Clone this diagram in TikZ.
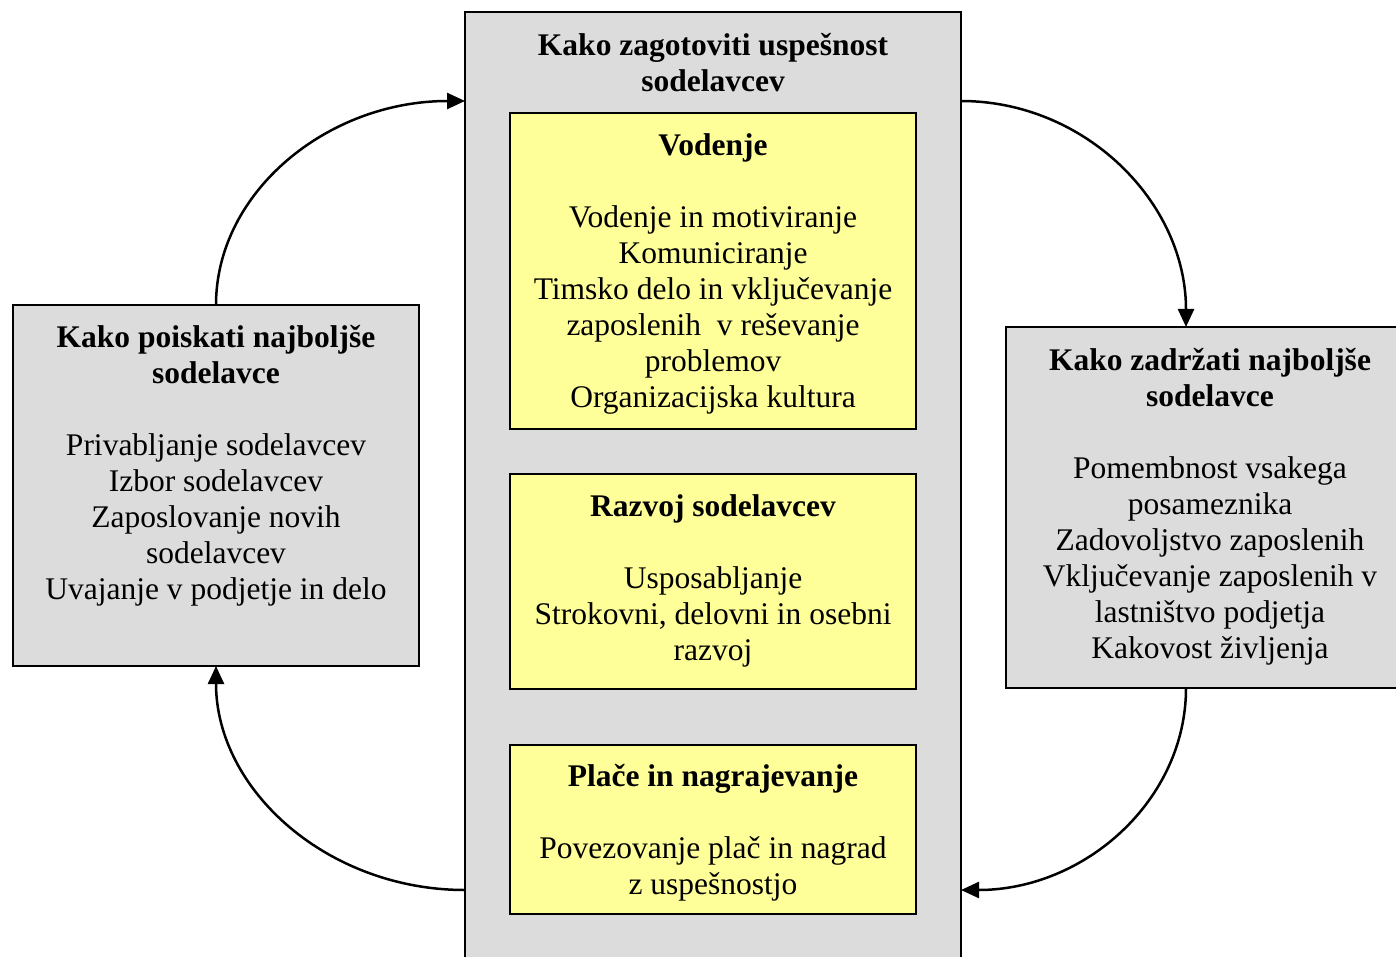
\documentclass[tikz,border=0pt]{standalone}
\usepackage{fontspec}
\setmainfont{Liberation Serif}
\usetikzlibrary{arrows.meta}
\definecolor{boxgrey}{RGB}{220,220,220}
\definecolor{boxyellow}{RGB}{255,255,153}
\begin{document}
\begin{tikzpicture}[x=1pt,y=-1pt,
  greybox/.style={draw=black, line width=2pt, fill=boxgrey, inner sep=0pt, outer sep=0pt},
  yellowbox/.style={draw=black, line width=2.5pt, fill=boxyellow, inner sep=0pt, outer sep=0pt},
  boxtext/.style={align=center, inner sep=0pt, anchor=north, font=\fontsize{31.5}{36}\selectfont},
  flow/.style={line width=2.5pt, -{Triangle[length=18pt,width=16pt]}}]
\useasboundingbox (0,0) rectangle (1396,957);
\clip (0,0) rectangle (1396,957);
\fill[white] (0,0) rectangle (1396,957);
% boxes
\node[greybox, minimum width=406pt, minimum height=361pt] (lbox) at (216,485.5) {};
\node[greybox, minimum width=496pt, minimum height=968pt] (cbox) at (713,496) {};
\node[greybox, minimum width=408pt, minimum height=361pt] (rbox) at (1210,507.5) {};
\node[yellowbox, minimum width=406pt, minimum height=316pt] (ya) at (713,271) {};
\node[yellowbox, minimum width=406pt, minimum height=215pt] (yb) at (713,581.5) {};
\node[yellowbox, minimum width=406pt, minimum height=169pt] (yc) at (713,829.5) {};
% texts
\node[boxtext] (ctitle) at (713,29.8) {\strut\textbf{Kako zagotoviti uspešnost}\\\textbf{sodelavcev}};
\node[boxtext] (yatext) at (713,129.8) {\strut\textbf{Vodenje}\\[36pt]Vodenje in motiviranje\\Komuniciranje\\Timsko delo in vključevanje\\zaposlenih\ \ v reševanje\\problemov\\Organizacijska kultura};
\node[boxtext] (ybtext) at (713,490.8) {\strut\textbf{Razvoj sodelavcev}\\[36pt]Usposabljanje\\Strokovni, delovni in osebni\\razvoj};
\node[boxtext] (yctext) at (713,760.8) {\strut\textbf{Plače in nagrajevanje}\\[36pt]Povezovanje plač in nagrad\\z uspešnostjo};
\node[boxtext] (ltext) at (216,321.8) {\strut\textbf{Kako poiskati najboljše}\\\textbf{sodelavce}\\[36pt]Privabljanje sodelavcev\\Izbor sodelavcev\\Zaposlovanje novih\\sodelavcev\\Uvajanje v podjetje in delo};
\node[boxtext] (rtext) at (1210,345.5) {\strut\textbf{Kako zadržati najboljše}\\\textbf{sodelavce}\\[36pt]Pomembnost vsakega\\posameznika\\Zadovoljstvo zaposlenih\\Vključevanje zaposlenih v\\lastništvo podjetja\\Kakovost življenja};
% connectors
\draw[flow] (lbox.north) .. controls +(0,-113) and +(-137.5,0) .. ([yshift=-89pt]cbox.north west);
\draw[flow] ([yshift=-89pt]cbox.north east) .. controls +(124,0) and +(0,-125) .. ([xshift=-24pt]rbox.north);
\draw[flow] ([xshift=-24pt]rbox.south) .. controls +(0,112) and +(124,0) .. ([yshift=-878pt]cbox.north east);
\draw[flow] ([yshift=-878pt]cbox.north west) .. controls +(-137.5,0) and +(0,124) .. (lbox.south);
\end{tikzpicture}
\end{document}
